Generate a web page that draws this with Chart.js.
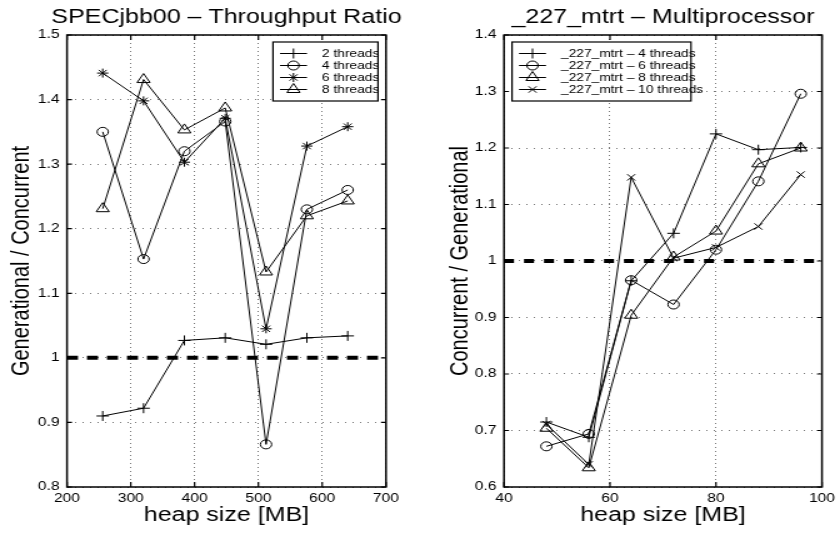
<!DOCTYPE html>
<html><head><meta charset="utf-8">
<script src="https://cdn.jsdelivr.net/npm/chart.js@4/dist/chart.umd.min.js"></script>
<style>
html,body{margin:0;padding:0;background:#fff;overflow:hidden}
#wrap{position:relative;width:839px;height:534px;overflow:hidden}
.panel{position:absolute;top:0;transform:scaleX(1.25);transform-origin:0 0}
canvas{display:block}
</style></head><body>
<div id="wrap">
  <div class="panel" style="left:0"><canvas id="c1" width="336" height="534" style="width:336px;height:534px"></canvas></div>
  <div class="panel" style="left:420px"><canvas id="c2" width="336" height="534" style="width:336px;height:534px"></canvas></div>
</div>
<script>
// ---------------- data ----------------
const jbbTitle = 'SPECjbb00 \u2013 Throughput Ratio';
const jbbYLabel = 'Generational / Concurrent';
const jbbHeap = [256, 320, 384, 448, 512, 576, 640];
const jbb2T = [0.910, 0.922, 1.027, 1.031, 1.021, 1.031, 1.034];
const jbb4T = [1.350, 1.153, 1.320, 1.366, 0.866, 1.230, 1.260];
const jbb6T = [1.441, 1.398, 1.303, 1.371, 1.045, 1.328, 1.358];
const jbb8T = [1.231, 1.431, 1.353, 1.387, 1.133, 1.220, 1.243];
const jbbLabels = ['2 threads', '4 threads', '6 threads', '8 threads'];
const jbbXTicks = [200, 300, 400, 500, 600, 700];
const jbbYTicks = [0.8, 0.9, 1.0, 1.1, 1.2, 1.3, 1.4, 1.5];

const mtrtTitle = '_227_mtrt \u2013 Multiprocessor';
const mtrtYLabel = 'Concurrent / Generational';
const mtrtHeap = [48, 56, 64, 72, 80, 88, 96];
const mtrt4T = [0.715, 0.688, 0.965, 1.049, 1.225, 1.197, 1.201];
const mtrt6T = [0.672, 0.694, 0.966, 0.923, 1.020, 1.141, 1.296];
const mtrt8T = [0.704, 0.634, 0.904, 1.007, 1.053, 1.172, 1.200];
const mtrt10T = [0.711, 0.640, 1.148, 1.005, 1.024, 1.061, 1.153];
const mtrtLabels = ['_227_mtrt \u2013 4 threads', '_227_mtrt \u2013 6 threads', '_227_mtrt \u2013 8 threads', '_227_mtrt \u2013 10 threads'];
const mtrtXTicks = [40, 60, 80, 100];
const mtrtYTicks = [0.6, 0.7, 0.8, 0.9, 1.0, 1.1, 1.2, 1.3, 1.4];

const xLabel = 'heap size [MB]';
const refLevel = 1;

// ---------------- helpers ----------------
const S = 1.25; // horizontal stretch applied to each panel
const FONT = "'Liberation Sans', Arial, Helvetica, sans-serif";
const fmt = v => String(Math.round(v * 100) / 100);

function pts(xs, ys) { return xs.map((x, i) => ({x: x, y: ys[i]})); }

function series(label, xs, ys, style, r) {
  return {label, data: pts(xs, ys), borderColor: '#000', borderWidth: 1,
    backgroundColor: 'rgba(0,0,0,0)', pointStyle: style, pointRadius: r,
    pointBorderColor: '#000', pointBackgroundColor: 'rgba(0,0,0,0)', pointBorderWidth: 1,
    tension: 0, fill: false, showLine: true};
}
function refSeries(xmin, xmax, dash) {
  return {label: 'ref', legendHide: true, data: [{x: xmin, y: refLevel}, {x: xmax, y: refLevel}],
    borderColor: '#000', borderWidth: 4, borderDash: dash, borderCapStyle: 'butt',
    pointRadius: 0, tension: 0, fill: false, showLine: true};
}

const framePlugin = {
  id: 'frameTicks',
  afterDatasetsDraw(chart) {
    const {ctx, chartArea: a, scales: {x, y}} = chart;
    ctx.save();
    ctx.strokeStyle = '#000';
    ctx.lineWidth = 1.5;
    ctx.setLineDash([]);
    ctx.strokeRect(a.left, a.top, a.right - a.left, a.bottom - a.top);
    const L = 5;
    ctx.lineWidth = 1.2;
    ctx.beginPath();
    x.ticks.forEach(t => {
      const px = x.getPixelForValue(t.value);
      ctx.moveTo(px, a.bottom); ctx.lineTo(px, a.bottom - L);
      ctx.moveTo(px, a.top); ctx.lineTo(px, a.top + L);
    });
    y.ticks.forEach(t => {
      const py = y.getPixelForValue(t.value);
      ctx.moveTo(a.left, py); ctx.lineTo(a.left + L / S, py);
      ctx.moveTo(a.right, py); ctx.lineTo(a.right - L / S, py);
    });
    ctx.stroke();
    ctx.restore();
  }
};

const titlePlugin = {
  id: 'topTitle',
  afterDraw(chart, args, opts) {
    const {ctx, chartArea: a} = chart;
    ctx.save();
    ctx.font = '20px ' + FONT;
    ctx.fillStyle = '#000';
    ctx.textAlign = 'center';
    ctx.textBaseline = 'alphabetic';
    ctx.fillText(opts.text, (a.left + a.right) / 2, 23);
    ctx.restore();
  }
};

const boxLegendPlugin = {
  id: 'boxLegend',
  afterDraw(chart, args, opts) {
    const {ctx, chartArea: a} = chart;
    const w = opts.width, h = 59;
    const left = opts.side === 'right' ? a.right - 6.4 - w : a.left + 6.4;
    const top = 42;
    ctx.save();
    ctx.fillStyle = '#fff';
    ctx.fillRect(left, top, w, h);
    ctx.strokeStyle = '#000';
    ctx.lineWidth = 1.2;
    ctx.setLineDash([]);
    ctx.strokeRect(left, top, w, h);
    ctx.font = '11px ' + FONT;
    ctx.textBaseline = 'middle';
    ctx.textAlign = 'left';
    let row = 0;
    chart.data.datasets.forEach(ds => {
      if (ds.legendHide) return;
      const yy = top + 11.5 + row * 12;
      ctx.beginPath();
      ctx.moveTo(left + 5.6, yy); ctx.lineTo(left + 27.2, yy);
      ctx.strokeStyle = '#000'; ctx.lineWidth = 1; ctx.stroke();
      ctx.fillStyle = 'rgba(0,0,0,0)';
      Chart.helpers.drawPoint(ctx, {pointStyle: ds.pointStyle, radius: ds.pointRadius, rotation: 0, borderWidth: 1}, left + 16.4, yy);
      ctx.fillStyle = '#000';
      ctx.fillText(ds.label, left + 39.2, yy);
      row++;
    });
    ctx.restore();
  }
};

function scalesFor(xmin, xmax, xticks, ymin, ymax, yticks, yLabel, yAxisW, yTitlePad) {
  return {
    x: {type: 'linear', min: xmin, max: xmax,
      afterBuildTicks: s => { s.ticks = xticks.map(v => ({value: v})); },
      afterFit: s => { s.height = 47; },
      ticks: {autoSkip: false, maxRotation: 0, padding: 4, color: '#000', font: {size: 12.5, family: FONT}, callback: fmt},
      grid: {color: '#777', lineWidth: 1, drawTicks: false},
      border: {display: false, dash: [1, 3]},
      title: {display: true, text: xLabel, color: '#000', font: {size: 20, family: FONT}, padding: {top: 0, bottom: 7}}
    },
    y: {type: 'linear', min: ymin, max: ymax,
      afterBuildTicks: s => { s.ticks = yticks.map(v => ({value: v})); },
      afterFit: s => { s.width = yAxisW; },
      ticks: {autoSkip: false, padding: 6, color: '#000', font: {size: 12.5, family: FONT}, callback: fmt},
      grid: {color: '#777', lineWidth: 1, drawTicks: false},
      border: {display: false, dash: [1, 5]},
      title: {display: true, text: yLabel, color: '#000', font: {size: 20, family: FONT}, padding: {top: yTitlePad, bottom: 0}}
    }
  };
}

const common = {responsive: false, animation: false, devicePixelRatio: 1};

new Chart(document.getElementById('c1'), {
  type: 'scatter',
  data: {datasets: [
    series(jbbLabels[0], jbbHeap, jbb2T, 'cross', 5),
    series(jbbLabels[1], jbbHeap, jbb4T, 'circle', 4.5),
    series(jbbLabels[2], jbbHeap, jbb6T, 'star', 4.5),
    series(jbbLabels[3], jbbHeap, jbb8T, 'triangle', 6),
    refSeries(jbbXTicks[0], jbbXTicks[jbbXTicks.length - 1], [8.8, 7.2])
  ]},
  options: Object.assign({}, common, {
    layout: {padding: {top: 35, right: 27.2, bottom: 0, left: 0}},
    scales: scalesFor(200, 700, jbbXTicks, 0.8, 1.5, jbbYTicks, jbbYLabel, 53.6, 5.6),
    plugins: {legend: {display: false}, tooltip: {enabled: false},
      topTitle: {text: jbbTitle}, boxLegend: {side: 'right', width: 84}}
  }),
  plugins: [framePlugin, titlePlugin, boxLegendPlugin]
});

new Chart(document.getElementById('c2'), {
  type: 'scatter',
  data: {datasets: [
    series(mtrtLabels[0], mtrtHeap, mtrt4T, 'cross', 5),
    series(mtrtLabels[1], mtrtHeap, mtrt6T, 'circle', 4.5),
    series(mtrtLabels[2], mtrtHeap, mtrt8T, 'triangle', 6),
    series(mtrtLabels[3], mtrtHeap, mtrt10T, 'crossRot', 4.5),
    refSeries(mtrtXTicks[0], mtrtXTicks[mtrtXTicks.length - 1], [8, 8])
  ]},
  options: Object.assign({}, common, {
    layout: {padding: {top: 35, right: 12.8, bottom: 0, left: 0}},
    scales: scalesFor(40, 100, mtrtXTicks, 0.6, 1.4, mtrtYTicks, mtrtYLabel, 67.2, 20),
    plugins: {legend: {display: false}, tooltip: {enabled: false},
      topTitle: {text: mtrtTitle}, boxLegend: {side: 'left', width: 143.2}}
  }),
  plugins: [framePlugin, titlePlugin, boxLegendPlugin]
});
</script>
</body></html>
